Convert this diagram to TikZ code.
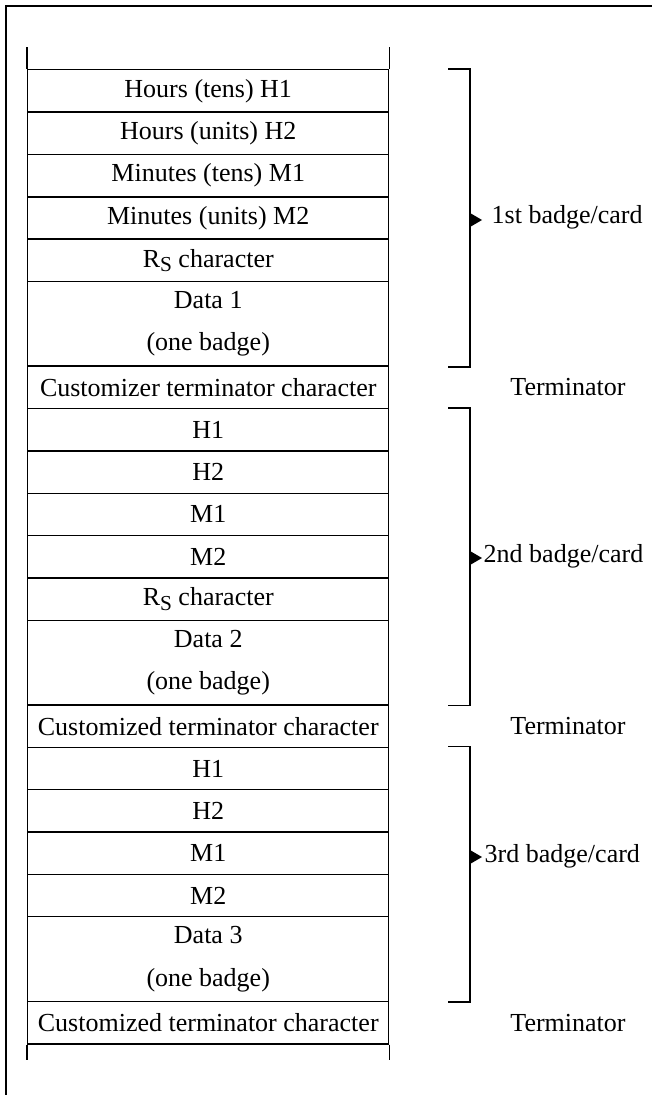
\documentclass[tikz,border=0pt]{standalone}
\usepackage{fontspec}
\setmainfont{Liberation Serif}
\newcommand{\rsym}{R\raisebox{-0.35ex}{\fontsize{16}{16}\selectfont S}}
\begin{document}
\begin{tikzpicture}[x=0.75pt,y=-0.75pt,
  line width=1.1pt,
  txt/.style={font=\fontsize{19.5}{31.76}\selectfont, inner sep=0pt},
  cell/.style={txt, draw, anchor=north west, minimum width=270.75pt,
    minimum height=31.76pt, align=center},
  dcell/.style={cell, minimum height=63.52pt},
  tip/.style={fill=black, draw=none}]
\useasboundingbox (0,0) rectangle (652,1095);

% outer frame (top and left edges)
\draw (652,6) -- (6,6) -- (6,1095);

% first record
\node[cell]  (a1) at (27,69.00)   {Hours (tens) H1};
\node[cell]  (a2) at (27,111.35)  {Hours (units) H2};
\node[cell]  (a3) at (27,153.70)  {Minutes (tens) M1};
\node[cell]  (a4) at (27,196.05)  {Minutes (units) M2};
\node[cell]  (a5) at (27,238.40)  {\rsym{} character};
\node[dcell] (a6) at (27,280.75)  {Data 1\\(one badge)};
\node[cell]  (t1) at (27,365.45)  {Customizer terminator character};

% second record
\node[cell]  (b1) at (27,407.80)  {H1};
\node[cell]  (b2) at (27,450.15)  {H2};
\node[cell]  (b3) at (27,492.50)  {M1};
\node[cell]  (b4) at (27,534.85)  {M2};
\node[cell]  (b5) at (27,577.20)  {\rsym{} character};
\node[dcell] (b6) at (27,619.55)  {Data 2\\(one badge)};
\node[cell]  (t2) at (27,704.25)  {Customized terminator character};

% third record
\node[cell]  (c1) at (27,746.60)  {H1};
\node[cell]  (c2) at (27,788.95)  {H2};
\node[cell]  (c3) at (27,831.30)  {M1};
\node[cell]  (c4) at (27,873.65)  {M2};
\node[dcell] (c6) at (27,916.00)  {Data 3\\(one badge)};
\node[cell]  (t3) at (27,1000.70) {Customized terminator character};

% open ends of the column
\coordinate (topL) at (27,47);
\coordinate (botL) at (27,1060);
\draw (a1.north west) -- (topL);
\draw (a1.north east) -- (a1.north east |- topL);
\draw (t3.south west) -- (botL);
\draw (t3.south east) -- (t3.south east |- botL);

% brackets
\coordinate (bs) at (448,0);
\coordinate (bx) at (470,0);
\draw (a1.north -| bs) -- (a1.north -| bx) -- (a6.south -| bx) -- (a6.south -| bs);
\draw (b1.north -| bs) -- (b1.north -| bx) -- (b6.south -| bx) -- (b6.south -| bs);
\draw (c1.north -| bs) -- (c1.north -| bx) -- (c6.south -| bx) -- (c6.south -| bs);

% bracket labels with arrow heads
\node[txt, anchor=west] (l1) at (491,217) {1st badge/card};
\node[txt, anchor=west] (l2) at (483,556) {2nd badge/card};
\node[txt, anchor=west] (l3) at (484,856) {3rd badge/card};
\coordinate (p1) at (470,220);
\coordinate (p2) at (470,558);
\coordinate (p3) at (470,857);
\foreach \p in {p1,p2,p3}
  \fill[tip] (\p) ++(0,-7) -- ++(12,7) -- ++(-12,7) -- cycle;

% terminator labels
\node[txt] (m1) at (t1.center -| 568,0) {Terminator};
\node[txt] (m2) at (t2.center -| 568,0) {Terminator};
\node[txt] (m3) at (t3.center -| 568,0) {Terminator};
\end{tikzpicture}
\end{document}
